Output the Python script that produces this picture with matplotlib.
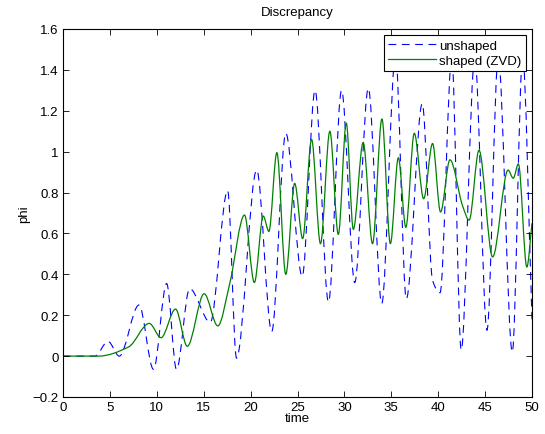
import numpy as np
import matplotlib
matplotlib.use("Agg")
import matplotlib.pyplot as plt
from matplotlib.path import Path
from matplotlib.patches import PathPatch
from matplotlib.lines import Line2D

plt.rcParams['font.family'] = ['Liberation Sans', 'DejaVu Sans']

# Werte (Extrema / Knickpunkte)
unshaped_t = [0, 3.4, 4.8, 6.0, 8.1, 9.65, 11.05, 12.1, 13.5, 15.7, 17.55, 18.5,
              20.65, 22.25, 23.75, 25.5, 26.87, 28.3, 29.7, 31.1, 32.55, 33.98,
              35.45, 36.6, 38.3, 39.4, 40.2, 41.45, 42.45, 43.9, 45.2, 46.4,
              47.9, 49.0, 50]
unshaped_v = [0, 0, 0.072, 0.0, 0.25, -0.065, 0.355, -0.065, 0.33, 0.165, 0.81, -0.01,
              0.91, 0.12, 1.09, 0.39, 1.30, 0.265, 1.30, 0.36, 1.31, 0.257,
              1.47, 0.28, 1.235, 0.37, 0.31, 1.46, 0.03, 1.46, 0.126, 1.46,
              0.02, 1.46, 0.18]

shaped_t = [0, 3.8, 7.0, 9.2, 10.45, 12.0, 13.25, 15.05, 16.5, 17.8, 19.35, 20.4,
            21.35, 21.95, 22.8, 23.75, 24.7, 25.55, 26.5, 27.45, 28.45, 29.35,
            30.2, 30.95, 32.0, 33.0, 34.0, 34.9, 35.75, 36.55, 37.45, 38.45,
            39.4, 40.25, 41.25, 42.6, 43.3, 44.35, 45.8, 47.45, 48.0, 48.55,
            49.45, 50]
shaped_v = [0, 0, 0.045, 0.16, 0.09, 0.23, 0.048, 0.305, 0.148, 0.36, 0.69, 0.36,
            0.685, 0.61, 0.995, 0.40, 0.845, 0.575, 1.06, 0.55, 1.10, 0.595,
            1.14, 0.62, 1.045, 0.55, 1.16, 0.55, 0.97, 0.63, 1.09, 0.77,
            1.04, 0.705, 0.96, 0.735, 0.665, 1.007, 0.485, 0.91, 0.87, 0.94,
            0.436, 0.65]

x_ticks = np.arange(0, 51, 5)
y_ticks = [-0.2, 0, 0.2, 0.4, 0.6, 0.8, 1, 1.2, 1.4, 1.6]
y_labels = ['\u22120.2', '0', '0.2', '0.4', '0.6', '0.8', '1', '1.2', '1.4', '1.6']

FS = 9.5


def smooth_path(t, v):
    t = np.asarray(t, float)
    v = np.asarray(v, float)
    d = np.diff(v) / np.diff(t)
    m = np.zeros_like(v)
    m[0], m[-1] = d[0], d[-1]
    for i in range(1, len(v) - 1):
        if d[i - 1] * d[i] > 0:
            m[i] = 2 * d[i - 1] * d[i] / (d[i - 1] + d[i])
    verts = [(t[0], v[0])]
    codes = [Path.MOVETO]
    for i in range(len(t) - 1):
        h = t[i + 1] - t[i]
        verts += [(t[i] + h / 3, v[i] + m[i] * h / 3),
                  (t[i + 1] - h / 3, v[i + 1] - m[i + 1] * h / 3),
                  (t[i + 1], v[i + 1])]
        codes += [Path.CURVE4] * 3
    return Path(verts, codes)


fig = plt.figure(figsize=(5.45, 4.35), dpi=100)
ax = fig.add_axes([63 / 545, 37 / 435, 469 / 545, 368 / 435])

blue_style = dict(color=(0, 0, 1), lw=0.8, linestyle=(0, (7, 5)))
green_style = dict(color=(0, 0.5, 0), lw=0.9, linestyle='-')

ax.add_patch(PathPatch(smooth_path(unshaped_t, unshaped_v), fill=False,
                       edgecolor=blue_style['color'], lw=blue_style['lw'],
                       linestyle=blue_style['linestyle']))
ax.add_patch(PathPatch(smooth_path(shaped_t, shaped_v), fill=False,
                       edgecolor=green_style['color'], lw=green_style['lw'],
                       linestyle=green_style['linestyle']))

ax.set_xlim(0, 50)
ax.set_ylim(-0.2, 1.6)
ax.set_xticks(x_ticks)
ax.set_yticks(y_ticks)
ax.set_yticklabels(y_labels)
ax.tick_params(direction='in', top=True, right=True, length=4, width=0.6,
               labelsize=FS, pad=3)
for s in ax.spines.values():
    s.set_linewidth(0.8)

ax.set_title('Discrepancy', fontsize=FS, pad=10)
ax.set_xlabel('time', fontsize=FS, labelpad=-1)
ax.set_ylabel('phi', fontsize=FS)
ax.yaxis.set_label_coords(-0.07, 0.5)

handles = [Line2D([], [], **blue_style), Line2D([], [], **green_style)]
leg = ax.legend(handles, ['unshaped', 'shaped (ZVD)'], loc='upper right',
                fontsize=FS, handlelength=3.6, handletextpad=0.25,
                borderpad=0.35, labelspacing=0.2, fancybox=False,
                framealpha=1, edgecolor='black', borderaxespad=0.45)
leg.get_frame().set_linewidth(0.8)

fig.savefig('out.png', dpi=100)
